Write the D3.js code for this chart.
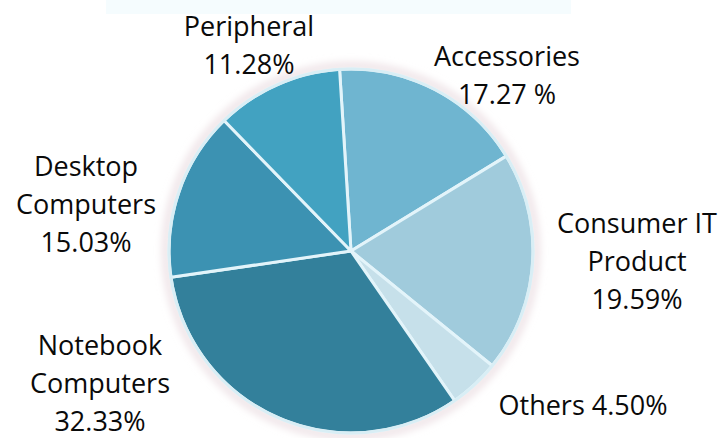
<!DOCTYPE html>
<html>
<head>
<meta charset="utf-8">
<script src="https://cdn.jsdelivr.net/npm/d3@7"></script>
<style>
  html, body { margin: 0; padding: 0; background: #ffffff; }
  svg { display: block; }
</style>
</head>
<body>
<svg id="chart" width="722" height="438"></svg>
<script>
// Market share by product segment (percent), clockwise from the top
const categories = ["Accessories", "Consumer IT Product", "Others", "Notebook Computers", "Desktop Computers", "Peripheral"];
const shares = [17.27, 19.59, 4.50, 32.33, 15.03, 11.28];
const shareLabels = ["17.27 %", "19.59%", "4.50%", "32.33%", "15.03%", "11.28%"];
const sliceColors = ["#6fb5d0", "#a0cbdc", "#c6e0ea", "#33809b", "#3c92b2", "#42a2c1"];

// Label text lines per slice and their anchor points
const labelLines = [
  ["Accessories", shareLabels[0]],
  ["Consumer IT", "Product", shareLabels[1]],
  ["Others " + shareLabels[2]],
  ["Notebook", "Computers", shareLabels[3]],
  ["Desktop", "Computers", shareLabels[4]],
  ["Peripheral", shareLabels[5]]
];
const labelAnchors = [[507, 66], [637, 233], [583, 415], [100, 355], [86, 176], [249, 36]];

const svg = d3.select("#chart");
const cx = 351, cy = 251, radius = 182;

const defs = svg.append("defs");
defs.append("filter").attr("id", "halo")
  .attr("x", "-20%").attr("y", "-20%").attr("width", "140%").attr("height", "140%")
  .append("feGaussianBlur").attr("stdDeviation", 4);

// faint tinted strip along the top edge
svg.append("rect")
  .attr("x", 106).attr("y", 0).attr("width", 465).attr("height", 14)
  .attr("fill", "#f5fcfe");

const g = svg.append("g").attr("transform", `translate(${cx},${cy})`);

// soft glow around the pie
g.append("circle")
  .attr("r", radius + 3)
  .attr("fill", "none")
  .attr("stroke", "#e8d9de")
  .attr("stroke-width", 6)
  .attr("filter", "url(#halo)");

const startAngle = -3.6 * Math.PI / 180;
const pie = d3.pie()
  .sort(null)
  .value(d => d)
  .startAngle(startAngle)
  .endAngle(startAngle + 2 * Math.PI);

const arc = d3.arc().innerRadius(0).outerRadius(radius);

g.selectAll("path.slice")
  .data(pie(shares))
  .join("path")
  .attr("class", "slice")
  .attr("d", arc)
  .attr("fill", (d, i) => sliceColors[i])
  .attr("stroke", "#e3f4fa")
  .attr("stroke-width", 3)
  .attr("stroke-linejoin", "round");

// light outer rim
g.append("circle")
  .attr("r", radius)
  .attr("fill", "none")
  .attr("stroke", "#d9eef5")
  .attr("stroke-width", 3);

// labels
const lineHeight = 38;
const labels = svg.append("g")
  .attr("font-family", "'Open Sans', 'DejaVu Sans', sans-serif")
  .attr("font-size", 27)
  .attr("fill", "#0a0a0a")
  .attr("text-anchor", "middle");

labelLines.forEach((lines, i) => {
  const t = labels.append("text")
    .attr("x", labelAnchors[i][0])
    .attr("y", labelAnchors[i][1]);
  lines.forEach((line, j) => {
    t.append("tspan")
      .attr("x", labelAnchors[i][0])
      .attr("dy", j === 0 ? 0 : lineHeight)
      .text(line);
  });
});
</script>
</body>
</html>
